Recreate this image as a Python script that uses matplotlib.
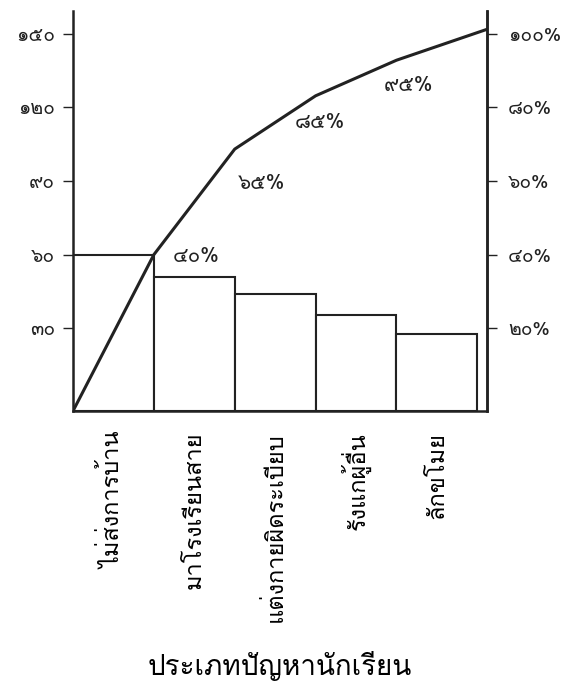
import numpy as np
import matplotlib
matplotlib.use("Agg")
import matplotlib.pyplot as plt
from matplotlib import font_manager
from matplotlib.ft2font import FT2Font

# data
categories = ["ไม่ส่งการบ้าน", "มาโรงเรียนสาย", "แต่งกายผิดระเบียบ", "รังแกผู้อื่น", "ลักขโมย"]
counts = [60, 51, 44, 35.5, 27.5]
cum_x = [0, 1, 2, 3, 4, 5.12]
cum_counts = [-3.7, 60, 103, 124.7, 139.2, 151.8]
cum_labels = ["๔๐%", "๖๕%", "๘๕%", "๙๕%"]
left_ticks = [30, 60, 90, 120, 150]
left_labels = ["๓๐", "๖๐", "๙๐", "๑๒๐", "๑๕๐"]
right_ticks = [20, 40, 60, 80, 100]
right_labels = ["๒๐%", "๔๐%", "๖๐%", "๘๐%", "๑๐๐%"]
xlabel = "ประเภทปัญหานักเรียน"


def thai_family():
    # find an installed font that has Thai glyphs
    for f in font_manager.fontManager.ttflist:
        try:
            if 0x0E01 in FT2Font(f.fname).get_charmap():
                return f.name
        except Exception:
            pass
    return "DejaVu Sans"


fam = thai_family()
plt.rcParams["font.family"] = [fam, "DejaVu Sans"]

fig = plt.figure(figsize=(5.73, 6.95), dpi=100)
ax = fig.add_axes([0.1274, 0.4086, 0.7226, 0.5754])
ymin, ymax = -3.7, 159.2

x = np.arange(len(categories))
# bars start at the bottom of the axis
ax.bar(x, np.array(counts) - ymin, width=1.0, align="edge", bottom=ymin,
       color="white", edgecolor="#222222", linewidth=1.5)
ax.plot(cum_x, cum_counts, color="#222222", linewidth=2.2)

offsets = [(42, -2), (27, -34), (4, -27), (12, -25)]
for i, lab in enumerate(cum_labels):
    ax.annotate(lab, (cum_x[i + 1], cum_counts[i + 1]), xytext=offsets[i],
                textcoords="offset pixels", ha="center", va="center",
                fontsize=15, color="#222222")

ax.set_xlim(0, cum_x[-1])
ax.set_ylim(ymin, ymax)
ax.set_yticks(left_ticks)
ax.set_yticklabels(left_labels, fontsize=14)
ax.set_xticks(x + 0.5)
ax.set_xticklabels(categories, rotation=90, fontsize=17)
ax.tick_params(axis="x", length=0, pad=15)
ax.tick_params(axis="y", length=7, width=1, pad=6, colors="#222222")
ax.set_xlabel(xlabel, fontsize=20, labelpad=21)

ax.spines["top"].set_visible(False)
for s in ["left", "right", "bottom"]:
    ax.spines[s].set_linewidth(1.8)
    ax.spines[s].set_color("#222222")

ax2 = ax.twinx()
ax2.set_ylim(ymin * 100 / 150, ymax * 100 / 150)
ax2.set_yticks(right_ticks)
ax2.set_yticklabels(right_labels, fontsize=14)
ax2.tick_params(axis="y", length=7, width=1, pad=8, colors="#222222")
for s in ["top", "left", "bottom"]:
    ax2.spines[s].set_visible(False)
ax2.spines["right"].set_linewidth(1.8)
ax2.spines["right"].set_color("#222222")

fig.savefig("out.png", dpi=100)
